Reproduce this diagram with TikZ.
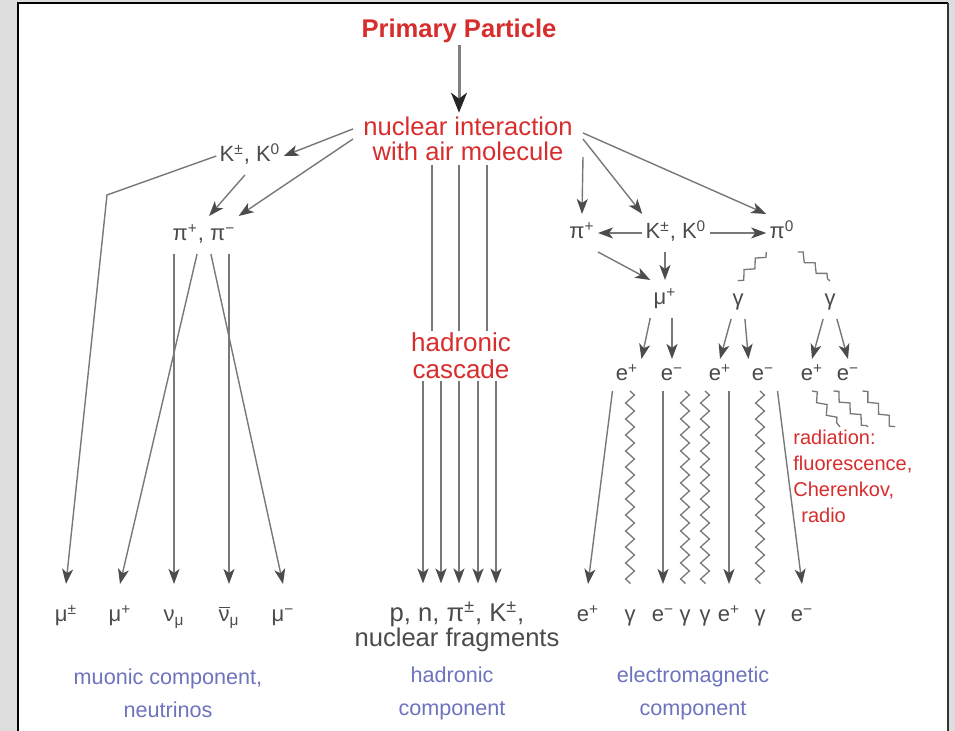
\documentclass[tikz,border=0pt]{standalone}
\usepackage{fontspec}
\setmainfont{Liberation Sans}
\usetikzlibrary{arrows.meta}
\usetikzlibrary{decorations.pathmorphing}

\definecolor{redtext}{RGB}{215,45,45}
\definecolor{bluetext}{RGB}{110,115,190}
\definecolor{partgray}{RGB}{75,75,75}
\definecolor{linegray}{RGB}{120,120,120}
\definecolor{panelgray}{RGB}{221,221,221}

\newcommand{\sps}[1]{\textsuperscript{#1}}

\tikzset{
  redlbl/.style={text=redtext, font=\fontsize{12.8}{12.5}\selectfont, align=center, inner sep=1pt},
  bluelbl/.style={text=bluetext, font=\fontsize{10.8}{16.5}\selectfont, align=center},
  part/.style={text=partgray, font=\fontsize{11}{12}\selectfont, inner sep=1.5pt,
    text height=8pt, text depth=2pt, outer ysep=3pt},
  bot/.style={part, outer ysep=9.5pt},
  erow/.style={part, outer ysep=1.5pt},
  arr/.style={draw=linegray, line width=0.7pt, -{Stealth[length=7.5pt,width=5.5pt,inset=2pt,color=black!70]}},
  primarr/.style={draw=gray, line width=1.5pt, -{Stealth[length=10pt,width=8pt,inset=3pt,color=black!85]}},
  plain/.style={draw=linegray, line width=0.7pt},
  wave/.style={draw=linegray, line width=0.65pt, decorate,
    decoration={zigzag, segment length=8pt, amplitude=2.2pt}},
  radwave/.style={draw=linegray, line width=0.65pt, decorate,
    decoration={zigzag, segment length=8pt, amplitude=1.8pt}},
}

\begin{document}
\begin{tikzpicture}[x=0.5pt, y=-0.5pt]
  \useasboundingbox (0,0) rectangle (955,731);
  % frame
  \fill[panelgray] (0,0) rectangle (955,731);
  \fill[white] (18,3) rectangle (948,731);
  \draw[line width=1pt] (18,731) -- (18,3) -- (948,3);
  \draw[line width=1.4pt, black!80] (948,3) -- (948,731);

  % top
  \node[redlbl, font=\fontsize{12.8}{12.5}\selectfont\bfseries] (prim) at (459,31) {Primary Particle};
  \node[redlbl, inner xsep=5pt, inner ysep=2pt] (inter) at (468,139) {nuclear interaction\\with air molecule};
  \draw[primarr] (prim.south) -- (prim.south |- inter.north);

  % muonic branch
  \node[part] (kl) at (250,156) {K\sps{±}, K\sps{0}};
  \node[part] (pil) at (204,235) {π\sps{+}, π\sps{−}};
  \coordinate (bend) at (107,195);

  \node[bot] (mupm) at (66,616) {μ\sps{±}};
  \node[bot] (mup) at (120,616) {μ\sps{+}};
  \node[bot] (numu) at (174,616) {ν\textsubscript{μ}};
  \node[bot] (nubar) at (229,616) {$\overline{\mbox{ν}}$\textsubscript{μ}};
  \node[bot] (mum) at (283,616) {μ\sps{−}};

  \draw[arr] (inter.175.5) -- (kl.east);
  \draw[arr] (inter.west) -- (pil.north east);
  \draw[arr] (kl.-105) -- (pil.75);
  \draw[arr] (kl.west) -- (bend) -- (mupm.north);
  \draw[arr] (pil.-110) -- (mup.north);
  \draw[arr] (pil.south -| numu) -- (numu.north);
  \draw[arr] (pil.south -| nubar) -- (nubar.north);
  \draw[arr] (pil.-70) -- (mum.north);

  % hadronic branch
  \node[redlbl, font=\fontsize{13}{13.5}\selectfont] (casc) at (461,356) {hadronic\\cascade};
  \node[text=partgray, font=\fontsize{12.8}{12.5}\selectfont, align=center, outer ysep=6pt] (frag) at (457,627)
    {p, n, π\sps{±}, K\sps{±},\\nuclear fragments};
  \foreach \x in {432,459,487}
    \draw[plain] (inter.south -| \x,0) -- (casc.north -| \x,0);
  \foreach \x in {423,441,459,478,496}
    \draw[arr] (casc.south -| \x,0) -- (frag.north -| \x,0);

  % electromagnetic branch
  \node[part] (pipr) at (582,233) {π\sps{+}};
  \node[part] (kr) at (676,233) {K\sps{±}, K\sps{0}};
  \node[part] (pizr) at (782,233) {π\sps{0}};
  \node[part] (mur) at (665,299) {μ\sps{+}};
  \node[part] (gl) at (738,300) {γ};
  \node[part] (gr) at (830,300) {γ};

  \node[erow] (e1) at (627,375) {e\sps{+}};
  \node[erow] (e2) at (672,375) {e\sps{−}};
  \node[erow] (e3) at (720,375) {e\sps{+}};
  \node[erow] (e4) at (763,375) {e\sps{−}};
  \node[erow] (e5) at (812,375) {e\sps{+}};
  \node[erow] (e6) at (848,375) {e\sps{−}};

  \node[bot] (b1) at (588,616) {e\sps{+}};
  \node[bot] (b2) at (630,616) {γ};
  \node[bot] (b3) at (663,616) {e\sps{−}};
  \node[bot] (b4) at (685,616) {γ};
  \node[bot] (b5) at (705,616) {γ};
  \node[bot] (b6) at (729,616) {e\sps{+}};
  \node[bot] (b7) at (760,616) {γ};
  \node[bot] (b8) at (802,616) {e\sps{−}};

  \draw[arr] (inter.3.5) -- (pizr.north west);
  \draw[arr] (inter.east) -- (kr.north west);
  \draw[arr] (inter.-9.4) -- (pipr.north);
  \draw[arr] (kr.west) -- (pipr.east);
  \draw[arr] (kr.east) -- (pizr.west);
  \draw[arr] (kr.south -| mur) -- (mur.north);
  \draw[arr] (pipr.south east) -- (mur.north west);
  \draw[radwave] (pizr.south west) -- (gl.north);
  \draw[radwave] (pizr.south east) -- (gr.north);

  \draw[arr] (mur.south west) -- (e1.north east);
  \draw[arr] (mur.south -| e2) -- (e2.north);
  \draw[arr] (gl.-110) -- (e3.north);
  \draw[arr] (gl.-70) -- (e4.north west);
  \draw[arr] (gr.-110) -- (e5.north);
  \draw[arr] (gr.-70) -- (e6.north);

  \draw[arr] (e1.south west) -- (b1.north);
  \draw[wave] (e1.south -| b2) -- (b2.north);
  \draw[arr] (e2.south -| b3) -- (b3.north);
  \draw[wave] (e2.south -| b4) -- (b4.north);
  \draw[wave] (e3.south -| b5) -- (b5.north);
  \draw[arr] (e3.south -| b6) -- (b6.north);
  \draw[wave] (e4.south -| b7) -- (b7.north);
  \draw[arr] (e4.south east) -- (b8.north);

  % radiation
  \coordinate (rad1) at (840,427);
  \coordinate (rad2) at (868,427);
  \coordinate (rad3) at (895,427);
  \draw[radwave] (e5.south) -- (rad1);
  \draw[radwave] (e6.south west) -- (rad2);
  \draw[radwave] (e6.south east) -- (rad3);
  \node[text=redtext, font=\fontsize{10}{13}\selectfont, align=left, anchor=north west, inner sep=0pt] (rad)
    at (793,430) {radiation:\\fluorescence,\\Cherenkov,\\\hspace*{4pt}radio};

  % component labels
  \node[bluelbl] (muc) at (168,693) {muonic component,\\neutrinos};
  \node[bluelbl] (hac) at (452,693) {hadronic\\component};
  \node[bluelbl] (emc) at (693,693) {electromagnetic\\component};
\end{tikzpicture}
\end{document}
